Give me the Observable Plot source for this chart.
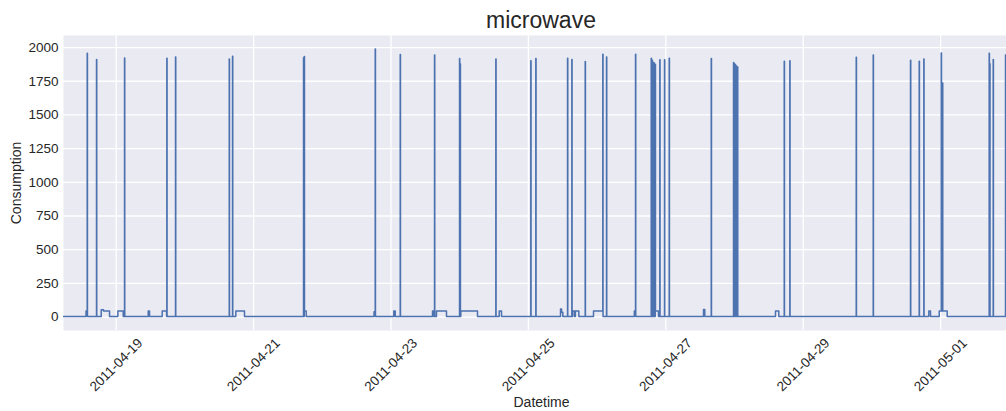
<!DOCTYPE html>
<html>
<head>
<meta charset="utf-8">
<script src="https://cdn.jsdelivr.net/npm/d3@7"></script>
<script src="https://cdn.jsdelivr.net/npm/@observablehq/plot@0.6"></script>
<style>
  html, body { margin: 0; padding: 0; background: #ffffff; overflow: hidden; }
  #wrap { position: relative; width: 1006px; height: 411px; }
  #title { position: absolute; top: 8.5px; left: 541px; transform: translateX(-50%);
           font-family: "Liberation Sans", Arial, sans-serif; font-size: 23px; line-height: 23px;
           color: #262626; white-space: nowrap; }
</style>
</head>
<body>
<div id="wrap"><div id="title">microwave</div></div>
<script>
// Step series of microwave consumption: time at which the level changes, and the new level
const changeTimes = [
  "2011-04-18 05:35","2011-04-18 13:27","2011-04-18 13:52","2011-04-18 13:57",
  "2011-04-18 17:07","2011-04-18 17:12","2011-04-18 18:46","2011-04-18 19:34","2011-04-18 21:40",
  "2011-04-19 00:34","2011-04-19 02:27","2011-04-19 02:54","2011-04-19 02:59",
  "2011-04-19 11:11","2011-04-19 11:38","2011-04-19 16:04","2011-04-19 17:36",
  "2011-04-19 17:41","2011-04-19 17:46","2011-04-19 20:43","2011-04-19 20:48",
  "2011-04-20 15:29","2011-04-20 15:34","2011-04-20 16:38","2011-04-20 16:43",
  "2011-04-20 17:47","2011-04-20 20:49",
  "2011-04-21 17:26","2011-04-21 17:31","2011-04-21 17:41","2011-04-21 17:46","2011-04-21 18:22",
  "2011-04-22 18:04","2011-04-22 18:29","2011-04-22 18:34",
  "2011-04-23 00:59","2011-04-23 01:28","2011-04-23 03:13","2011-04-23 03:18",
  "2011-04-23 14:30","2011-04-23 15:00","2011-04-23 15:12","2011-04-23 15:17","2011-04-23 15:53","2011-04-23 19:23",
  "2011-04-23 23:56","2011-04-24 00:01","2011-04-24 00:10","2011-04-24 00:15","2011-04-24 00:23","2011-04-24 06:13",
  "2011-04-24 12:37","2011-04-24 12:42","2011-04-24 13:48","2011-04-24 14:36",
  "2011-04-25 00:50","2011-04-25 00:55","2011-04-25 02:35","2011-04-25 02:40",
  "2011-04-25 11:13","2011-04-25 11:35","2011-04-25 12:01",
  "2011-04-25 13:40","2011-04-25 13:45","2011-04-25 15:10","2011-04-25 15:15",
  "2011-04-25 15:31","2011-04-25 16:10","2011-04-25 16:25","2011-04-25 17:37",
  "2011-04-25 19:50","2011-04-25 19:55",
  "2011-04-25 22:44","2011-04-26 01:59","2011-04-26 02:04","2011-04-26 03:17","2011-04-26 03:22",
  "2011-04-26 13:00","2011-04-26 13:25","2011-04-26 13:30",
  "2011-04-26 18:54","2011-04-26 18:59","2011-04-26 19:15","2011-04-26 19:20","2011-04-26 19:36","2011-04-26 19:41",
  "2011-04-26 19:57","2011-04-26 20:02","2011-04-26 20:18","2011-04-26 20:23","2011-04-26 21:27",
  "2011-04-26 21:54","2011-04-26 21:59","2011-04-26 23:33","2011-04-26 23:38",
  "2011-04-27 01:11","2011-04-27 01:16","2011-04-27 13:10","2011-04-27 13:37",
  "2011-04-27 15:52","2011-04-27 15:57",
  "2011-04-27 23:39","2011-04-27 23:44","2011-04-28 00:00","2011-04-28 00:05","2011-04-28 00:21","2011-04-28 00:26",
  "2011-04-28 00:42","2011-04-28 00:47","2011-04-28 01:03","2011-04-28 01:08",
  "2011-04-28 14:19","2011-04-28 15:28","2011-04-28 17:22","2011-04-28 17:27","2011-04-28 19:19","2011-04-28 19:24",
  "2011-04-29 18:31","2011-04-29 18:36",
  "2011-04-30 00:27","2011-04-30 00:32","2011-04-30 13:29","2011-04-30 13:34",
  "2011-04-30 16:31","2011-04-30 16:36","2011-04-30 18:08","2011-04-30 18:13",
  "2011-04-30 19:53","2011-04-30 20:28",
  "2011-04-30 23:31","2011-05-01 00:13","2011-05-01 00:18","2011-05-01 00:40","2011-05-01 00:45","2011-05-01 02:18",
  "2011-05-01 16:58","2011-05-01 17:03","2011-05-01 17:11","2011-05-01 17:16",
  "2011-05-01 18:22","2011-05-01 18:27","2011-05-01 22:40","2011-05-01 22:45",
  "2011-05-02 03:34"
];
const levels = [
  4, 45, 1958, 4,
  1911, 4, 55, 45, 4,
  45, 4, 1923, 4,
  45, 4, 45, 4,
  1920, 4, 1930, 4,
  1916, 4, 1935, 4,
  45, 4,
  1925, 4, 1933, 45, 4,
  40, 1990, 4,
  45, 4, 1948, 4,
  45, 4, 1945, 4, 45, 4,
  1918, 4, 1880, 4, 45, 4,
  1916, 4, 45, 4,
  1903, 4, 1918, 4,
  60, 35, 4,
  1920, 4, 1911, 4,
  45, 4, 45, 4,
  1896, 4,
  45, 1950, 4, 1930, 4,
  45, 1950, 4,
  1920, 4, 1905, 4, 1890, 4,
  1885, 4, 1875, 45, 4,
  1909, 4, 1909, 4,
  1920, 4, 57, 4,
  1918, 4,
  1890, 4, 1880, 4, 1870, 4,
  1862, 4, 1855, 4,
  45, 4, 1898, 4, 1903, 4,
  1928, 4,
  1945, 4, 1906, 4,
  1898, 4, 1916, 4,
  45, 4,
  45, 1960, 45, 1737, 45, 4,
  1958, 4, 1880, 4,
  1911, 4, 1945, 4,
  4
];
const xTickDates = ["2011-04-19","2011-04-21","2011-04-23","2011-04-25","2011-04-27","2011-04-29","2011-05-01"];
const yTicks = [0, 250, 500, 750, 1000, 1250, 1500, 1750, 2000];
const xDomain = ["2011-04-18 05:35", "2011-05-01 23:01"];
const yDomain = [-99.5, 2089.5];

const parse = s => new Date(s.replace(" ", "T") + (s.length > 10 ? ":00Z" : "T00:00:00Z"));
const series = changeTimes.map((t, i) => ({Datetime: parse(t), Consumption: levels[i]}));
const xt = xTickDates.map(parse);

const font = '"Liberation Sans", Arial, sans-serif';
const chart = Plot.plot({
  width: 1006,
  height: 411,
  marginTop: 35,
  marginBottom: 81,
  marginLeft: 63,
  marginRight: 0,
  style: {fontFamily: font, fontSize: "13.5px", color: "#262626", background: "transparent"},
  x: {type: "utc", domain: xDomain.map(parse)},
  y: {domain: yDomain},
  marks: [
    Plot.frame({fill: "#EAEAF2", stroke: null}),
    Plot.gridX(xt, {stroke: "#ffffff", strokeOpacity: 1, strokeWidth: 1.3}),
    Plot.gridY(yTicks, {stroke: "#ffffff", strokeOpacity: 1, strokeWidth: 1.3}),
    Plot.line(series, {x: "Datetime", y: "Consumption", curve: "step-after",
      stroke: "#4C72B0", strokeWidth: 1.5, clip: true}),
    Plot.axisY(yTicks, {tickSize: 0, tickPadding: 5, label: null, fontSize: 13.5, fill: "#262626",
      tickFormat: d => String(d)}),
    Plot.axisX({ticks: [], label: null, tickSize: 0}),
    Plot.text(xt, {x: d => d, text: d => d3.utcFormat("%Y-%m-%d")(d), frameAnchor: "bottom",
      dy: 34.5, rotate: -45, textAnchor: "middle", lineAnchor: "middle", fontSize: 13.5, fill: "#262626"}),
    Plot.text(["Consumption"], {frameAnchor: "left", dx: -47, rotate: -90, textAnchor: "middle",
      lineAnchor: "middle", fontSize: 14, fill: "#262626"}),
    Plot.text(["Datetime"], {frameAnchor: "bottom", dx: 6.5, dy: 72.5, textAnchor: "middle",
      lineAnchor: "middle", fontSize: 14, fill: "#262626"})
  ]
});
document.getElementById("wrap").prepend(chart);
chart.style.position = "absolute";
chart.style.left = "0";
chart.style.top = "0";
</script>
</body>
</html>
